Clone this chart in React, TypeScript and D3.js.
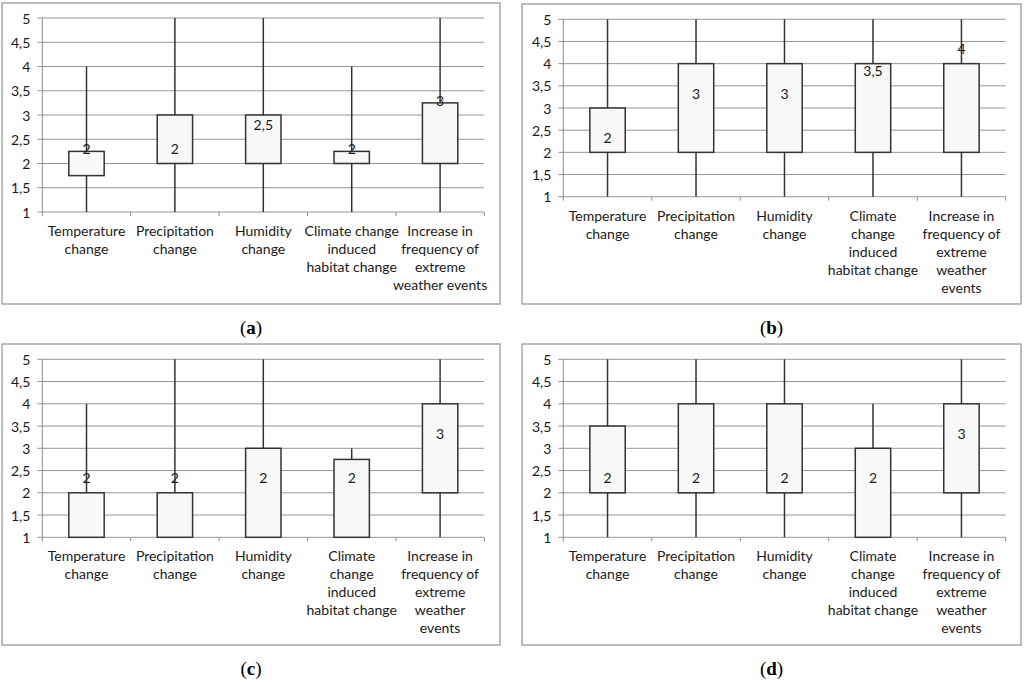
import React from "react";
import * as d3 from "d3";

const yTicks = [1, 1.5, 2, 2.5, 3, 3.5, 4, 4.5, 5];
const fmt = (v: number) => String(v).replace(".", ",");

const labelsA = [
  ["Temperature", "change"],
  ["Precipitation", "change"],
  ["Humidity", "change"],
  ["Climate change", "induced", "habitat change"],
  ["Increase in", "frequency of", "extreme", "weather events"],
];
const labelsB = [
  ["Temperature", "change"],
  ["Precipitation", "change"],
  ["Humidity", "change"],
  ["Climate", "change", "induced", "habitat change"],
  ["Increase in", "frequency of", "extreme", "weather", "events"],
];

// panel (a)
const aWhiskerLow = [1, 1, 1, 1, 1];
const aWhiskerHigh = [4, 5, 5, 4, 5];
const aBoxLow = [1.75, 2, 2, 2, 2];
const aBoxHigh = [2.25, 3, 3, 2.25, 3.25];
const aMedian = [2, 2, 2.5, 2, 3];

// panel (b)
const bWhiskerLow = [1, 1, 1, 1, 1];
const bWhiskerHigh = [5, 5, 5, 5, 5];
const bBoxLow = [2, 2, 2, 2, 2];
const bBoxHigh = [3, 4, 4, 4, 4];
const bMedian = [2, 3, 3, 3.5, 4];

// panel (c)
const cWhiskerLow = [1, 1, 1, 1, 1];
const cWhiskerHigh = [4, 5, 5, 3, 5];
const cBoxLow = [1, 1, 1, 1, 2];
const cBoxHigh = [2, 2, 3, 2.75, 4];
const cMedian = [2, 2, 2, 2, 3];

// panel (d)
const dWhiskerLow = [1, 1, 1, 1, 1];
const dWhiskerHigh = [5, 5, 5, 4, 5];
const dBoxLow = [2, 2, 2, 1, 2];
const dBoxHigh = [3.5, 4, 4, 3, 4];
const dMedian = [2, 2, 2, 2, 3];

const captions = ["a", "b", "c", "d"];

type PanelProps = {
  frame: [number, number, number, number];
  x0: number;
  x1: number;
  yTop: number;
  yBot: number;
  labelY: number;
  lines: string[][];
  wl: number[];
  wh: number[];
  bl: number[];
  bh: number[];
  med: number[];
  caption: string;
  capY: number;
};

const FONT = "Lato, 'Open Sans', sans-serif";
const TXT = "#1a1a1a";

function Panel(p: PanelProps) {
  const cats = p.lines.map((_, i) => String(i));
  const x = d3.scaleBand<string>().domain(cats).range([p.x0, p.x1]);
  const y = d3.scaleLinear().domain([1, 5]).range([p.yBot, p.yTop]);
  const bw = x.bandwidth() * 0.4;
  const [fx, fy, fw, fh] = p.frame;
  const boundaries = [...cats.map((c) => x(c)!), p.x1];
  return (
    <g>
      <rect x={fx} y={fy} width={fw} height={fh} fill="#fff" stroke="#a6a6a6" strokeWidth={1.5} />
      {yTicks.map((t) => (
        <g key={t}>
          <line x1={p.x0 - 5} x2={p.x1} y1={y(t)} y2={y(t)} stroke="#969696" strokeWidth={1} />
          <text x={p.x0 - 12} y={y(t)} textAnchor="end" dominantBaseline="central" fontFamily={FONT} fontSize={14} fill={TXT}>
            {fmt(t)}
          </text>
        </g>
      ))}
      <line x1={p.x0} x2={p.x0} y1={p.yTop} y2={p.yBot} stroke="#8c8c8c" strokeWidth={1} />
      {boundaries.map((b, i) => (
        <line key={i} x1={b} x2={b} y1={p.yBot} y2={p.yBot + 4} stroke="#8c8c8c" strokeWidth={1} />
      ))}
      {cats.map((c, i) => {
        const cx = x(c)! + x.bandwidth() / 2;
        return (
          <g key={c}>
            <line x1={cx} x2={cx} y1={y(p.wl[i])} y2={y(p.wh[i])} stroke="#333" strokeWidth={1.5} />
            <rect x={cx - bw / 2} y={y(p.bh[i])} width={bw} height={y(p.bl[i]) - y(p.bh[i])} fill="#f8f8f8" stroke="#333" strokeWidth={1.5} />
            <text x={cx} y={y(p.med[i]) - 15} textAnchor="middle" dominantBaseline="central" fontFamily={FONT} fontSize={14} fill={TXT}>
              {fmt(p.med[i])}
            </text>
            {p.lines[i].map((ln, j) => (
              <text key={j} x={cx} y={p.labelY + j * 18.2} textAnchor="middle" dominantBaseline="central" fontFamily={FONT} fontSize={14} fill={TXT}>
                {ln}
              </text>
            ))}
          </g>
        );
      })}
      <text x={fx + fw / 2} y={p.capY} textAnchor="middle" dominantBaseline="central" fontFamily="'Liberation Serif', 'Times New Roman', serif" fontSize={19} fill="#000">
        (<tspan fontWeight="bold">{p.caption}</tspan>)
      </text>
    </g>
  );
}

export default function App() {
  return (
    <svg width={1024} height={684} style={{ position: "absolute", left: 0, top: 0 }}>
      <rect width={1024} height={684} fill="#fff" />
      <Panel frame={[2, 3, 498, 301]} x0={42.3} x1={484.3} yTop={18} yBot={212} labelY={230} lines={labelsA}
        wl={aWhiskerLow} wh={aWhiskerHigh} bl={aBoxLow} bh={aBoxHigh} med={aMedian} caption={captions[0]} capY={327} />
      <Panel frame={[522, 4, 499, 300]} x0={563.3} x1={1005.7} yTop={19.3} yBot={196.7} labelY={215} lines={labelsB}
        wl={bWhiskerLow} wh={bWhiskerHigh} bl={bBoxLow} bh={bBoxHigh} med={bMedian} caption={captions[1]} capY={327} />
      <Panel frame={[2, 344, 498, 301]} x0={42.3} x1={484.3} yTop={359.3} yBot={537.3} labelY={555} lines={labelsB}
        wl={cWhiskerLow} wh={cWhiskerHigh} bl={cBoxLow} bh={cBoxHigh} med={cMedian} caption={captions[2]} capY={668} />
      <Panel frame={[522, 344, 499, 301]} x0={563.3} x1={1005.7} yTop={359.3} yBot={537.3} labelY={555} lines={labelsB}
        wl={dWhiskerLow} wh={dWhiskerHigh} bl={dBoxLow} bh={dBoxHigh} med={dMedian} caption={captions[3]} capY={668} />
    </svg>
  );
}
